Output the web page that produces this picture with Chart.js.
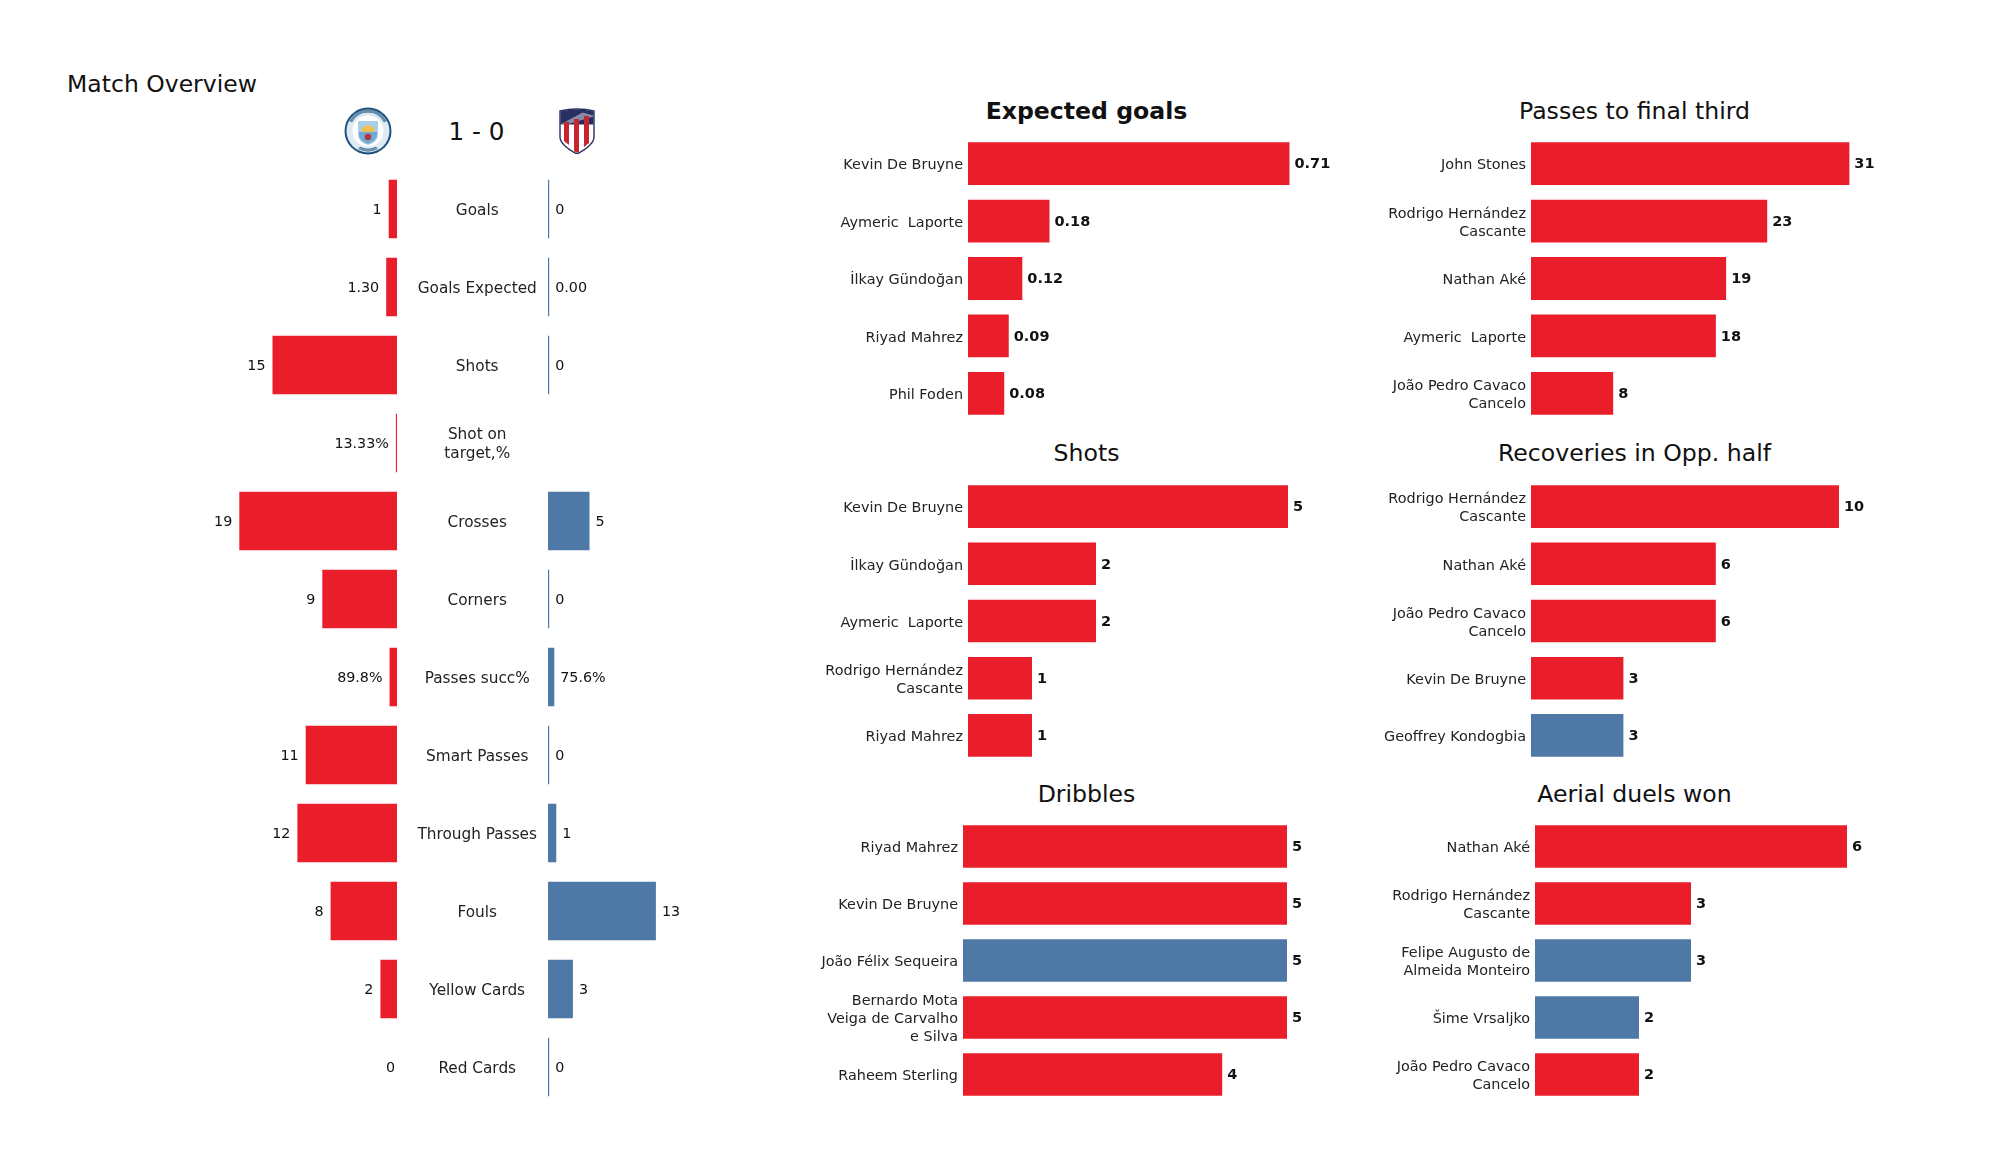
<!DOCTYPE html>
<html>
<head>
<meta charset="utf-8">
<title>Match Overview</title>
<script src="https://cdn.jsdelivr.net/npm/chart.js@4"></script>
<style>
    html, body { margin: 0; padding: 0; background: white; }
    body { position: relative; width: 2000px; height: 1175px; overflow: hidden; font-family: "DejaVu Sans", sans-serif; color: #111; }
    canvas, svg { position: absolute; }
    .label { position: absolute; white-space: pre; transform: translate(-50%, -50%); line-height: 1; }
</style>
</head>
<body>
<div class="label" style="left:162px;top:85px;font-size:23.5px">Match Overview</div>
<div class="label" style="left:476.5px;top:132px;font-size:24.7px">1 - 0</div>
<div class="label" style="left:1086.5px;top:112px;font-size:23.6px;font-weight:bold">Expected goals</div>
<div class="label" style="left:1086.5px;top:454px;font-size:23.6px">Shots</div>
<div class="label" style="left:1086.5px;top:795px;font-size:23.6px">Dribbles</div>
<div class="label" style="left:1634.5px;top:112px;font-size:23.6px">Passes to final third</div>
<div class="label" style="left:1634.5px;top:454px;font-size:23.6px">Recoveries in Opp. half</div>
<div class="label" style="left:1634.5px;top:795px;font-size:23.6px">Aerial duels won</div>

<!-- Crests -->
<svg style="left:344px;top:107px" width="48" height="48" viewBox="0 0 48 48">
    <circle cx="24" cy="24" r="23.5" fill="#1c4f7c"/>
    <circle cx="24" cy="24" r="21.5" fill="#dfeaf3"/>
    <circle cx="24" cy="24" r="15.5" fill="#fff"/>
    <path d="M14 14h20v13c0 6-4 9-10 11c-6-2-10-5-10-11z" fill="#a9cfe8"/>
    <path d="M18 22q2-5 4-2q2-5 4 0q2-3 4 2v3h-12z" fill="#f0c04a"/>
    <path d="M15 25h18v2c0 5-4 8-9 10c-5-2-9-5-9-10z" fill="#6faad2"/>
    <circle cx="24" cy="30" r="3.2" fill="#b5323f"/>
    <path d="M24 2.5a21.5 21.5 0 0 1 19 11.5l-3 1.6a18 18 0 0 0-32 0l-3-1.6a21.5 21.5 0 0 1 19-11.5z" fill="#3f6f98" opacity="0.75"/>
    <path d="M14 42a21 21 0 0 0 20 0l-2-2.6a18 18 0 0 1-16 0z" fill="#6d8fae"/>
</svg>
<svg style="left:559px;top:108px" width="36" height="46" viewBox="0 0 36 46">
    <path d="M1 3q17-4 34 0v26q0 8-17 17q-17-9-17-17z" fill="#fff"/>
    <path d="M1.500 3.500q16.500-4 33 0v13h-33z" fill="#27305f"/>
    <path d="M1.500 16.500l22-12l11 3v1l-27 8z" fill="#d9d9e6" opacity="0.55"/>
    <path d="M5 14h5v23l-5-4z" fill="#c8232f"/>
    <path d="M15 11h5v33l-2 1l-3-2z" fill="#c8232f"/>
    <path d="M25 8h5v27l-5 4z" fill="#c8232f"/>
    <path d="M1 3q17-4 34 0v26q0 8-17 17q-17-9-17-17z" fill="none" stroke="#27305f" stroke-width="1.400"/>
</svg>

<canvas id="homeChart" width="397" height="936" style="left:0;top:170px"></canvas>
<canvas id="awayChart" width="400" height="936" style="left:405px;top:170px"></canvas>
<canvas id="xgChart" width="572" height="287" style="left:788px;top:135px"></canvas>
<canvas id="shotsChart" width="572" height="286" style="left:788px;top:478px"></canvas>
<canvas id="dribblesChart" width="572" height="285" style="left:783px;top:818px"></canvas>
<canvas id="passesChart" width="600" height="287" style="left:1351px;top:135px"></canvas>
<canvas id="recoveriesChart" width="600" height="286" style="left:1351px;top:478px"></canvas>
<canvas id="aerialChart" width="600" height="285" style="left:1355px;top:818px"></canvas>

<script>
// Match overview table

const statNames = ['Goals', 'Goals Expected', 'Shots', ['Shot on', 'target,%'], 'Crosses', 'Corners',
    'Passes succ%', 'Smart Passes', 'Through Passes', 'Fouls', 'Yellow Cards', 'Red Cards'];
const homeValues = [1, 1.3, 15, 0.1333, 19, 9, 0.898, 11, 12, 8, 2, 0];
const awayValues = [0, 0, 0, null, 5, 0, 0.756, 0, 1, 13, 3, 0];
const homeLabels = ['1', '1.30', '15', '13.33%', '19', '9', '89.8%', '11', '12', '8', '2', '0'];
const awayLabels = ['0', '0.00', '0', '', '5', '0', '75.6%', '0', '1', '13', '3', '0'];

// Player panels

const xgNames = ['Kevin De Bruyne', 'Aymeric  Laporte', 'İlkay Gündoğan', 'Riyad Mahrez', 'Phil Foden'];
const xgValues = [0.71, 0.18, 0.12, 0.09, 0.08];
const xgLabels = ['0.71', '0.18', '0.12', '0.09', '0.08'];
const xgTeams = ['home', 'home', 'home', 'home', 'home'];

const shotNames = ['Kevin De Bruyne', 'İlkay Gündoğan', 'Aymeric  Laporte', ['Rodrigo Hernández', 'Cascante'], 'Riyad Mahrez'];
const shotValues = [5, 2, 2, 1, 1];
const shotTeams = ['home', 'home', 'home', 'home', 'home'];

const dribbleNames = ['Riyad Mahrez', 'Kevin De Bruyne', 'João Félix Sequeira', ['Bernardo Mota', 'Veiga de Carvalho', 'e Silva'], 'Raheem Sterling'];
const dribbleValues = [5, 5, 5, 5, 4];
const dribbleTeams = ['home', 'home', 'away', 'home', 'home'];

const passNames = ['John Stones', ['Rodrigo Hernández', 'Cascante'], 'Nathan Aké', 'Aymeric  Laporte', ['João Pedro Cavaco', 'Cancelo']];
const passValues = [31, 23, 19, 18, 8];
const passTeams = ['home', 'home', 'home', 'home', 'home'];

const recoveryNames = [['Rodrigo Hernández', 'Cascante'], 'Nathan Aké', ['João Pedro Cavaco', 'Cancelo'], 'Kevin De Bruyne', 'Geoffrey Kondogbia'];
const recoveryValues = [10, 6, 6, 3, 3];
const recoveryTeams = ['home', 'home', 'home', 'home', 'away'];

const aerialNames = ['Nathan Aké', ['Rodrigo Hernández', 'Cascante'], ['Felipe Augusto de', 'Almeida Monteiro'], 'Šime Vrsaljko', ['João Pedro Cavaco', 'Cancelo']];
const aerialValues = [6, 3, 3, 2, 2];
const aerialTeams = ['home', 'home', 'away', 'away', 'home'];

const colors = { home: '#ea1e2b', away: '#4e79a7' };
const fontFamily = '"DejaVu Sans"';

// Plugin that writes the value next to the end of each bar

const valueLabels = {
    id: 'valueLabels',
    afterDatasetsDraw(chart, args, opts) {
        const ctx = chart.ctx;
        const meta = chart.getDatasetMeta(0);
        ctx.save();
        ctx.font = opts.weight + ' ' + opts.size + 'px ' + fontFamily;
        ctx.fillStyle = '#111';
        ctx.textBaseline = 'middle';
        ctx.textAlign = opts.side == 'left' ? 'right' : 'left';
        meta.data.forEach((bar, i) => {
            let gap = opts.gap;
            if (opts.side == 'left') {
                // empty bars have no edge, so the label sits against the axis
                gap = chart.data.datasets[0].data[i] == 0 ? 2 : gap;
                ctx.fillText(opts.texts[i], bar.x - gap, bar.y + 1);
            } else {
                ctx.fillText(opts.texts[i], bar.x + gap, bar.y + 1);
            }
        });
        ctx.restore();
    }
};

// Function to draw one horizontal bar chart

function drawBars(id, settings) {
    const canvas = document.getElementById(id);
    const plotWidth = canvas.width - settings.axisWidth;
    const xMax = plotWidth / settings.pixelsPerUnit;

    return new Chart(canvas, {
        type: 'bar',
        plugins: [valueLabels],
        data: {
            labels: settings.names,
            datasets: [{
                data: settings.values,
                backgroundColor: settings.barColors,
                barPercentage: settings.barPercentage,
                categoryPercentage: 1,
                minBarLength: settings.minBar
            }]
        },
        options: {
            indexAxis: 'y',
            responsive: false,
            animation: false,
            layout: { padding: 0 },
            plugins: {
                legend: { display: false },
                tooltip: { enabled: false },
                valueLabels: {
                    texts: settings.texts,
                    side: settings.side,
                    gap: settings.gap,
                    size: settings.valueSize,
                    weight: settings.weight
                }
            },
            scales: {
                x: {
                    display: false,
                    min: 0,
                    max: xMax,
                    reverse: settings.side == 'left'
                },
                y: {
                    display: settings.axisWidth > 0,
                    afterFit: (scale) => {
                        scale.width = settings.axisWidth;
                        // no room wanted for half labels above and below
                        scale.paddingTop = 0;
                        scale.paddingBottom = 0;
                    },
                    grid: { display: false, drawTicks: false },
                    border: { display: false },
                    ticks: {
                        autoSkip: false,
                        crossAlign: settings.tickAlign,
                        padding: settings.tickPadding,
                        labelOffset: 2,
                        color: '#222',
                        font: { family: fontFamily, size: settings.tickSize, lineHeight: 1.24 }
                    }
                }
            }
        }
    });
}

// Left hand table, two mirrored charts

drawBars('homeChart', {
    names: statNames, values: homeValues, texts: homeLabels,
    barColors: colors.home, side: 'left', axisWidth: 0, pixelsPerUnit: 8.3,
    barPercentage: 0.75, gap: 7, weight: 'normal', valueSize: 14.3, minBar: 0
});

drawBars('awayChart', {
    names: statNames, values: awayValues, texts: awayLabels,
    barColors: colors.away, side: 'right', axisWidth: 143, pixelsPerUnit: 8.3,
    barPercentage: 0.75, gap: 6, weight: 'normal', valueSize: 14.3, minBar: 1.2,
    tickAlign: 'center', tickPadding: 11, tickSize: 15.3
});

// Player panels

function drawPanel(id, names, values, teams, pixelsPerUnit, texts) {
    drawBars(id, {
        names: names,
        values: values,
        texts: texts || values.map(String),
        barColors: teams.map(team => colors[team]),
        side: 'right',
        axisWidth: 180,
        pixelsPerUnit: pixelsPerUnit,
        barPercentage: 0.745,
        gap: 5,
        weight: 'bold',
        valueSize: 14.5,
        minBar: 0,
        tickAlign: 'near',
        tickPadding: 5,
        tickSize: 14.4
    });
}

drawPanel('xgChart', xgNames, xgValues, xgTeams, 452.8, xgLabels);
drawPanel('shotsChart', shotNames, shotValues, shotTeams, 64);
drawPanel('dribblesChart', dribbleNames, dribbleValues, dribbleTeams, 64.8);
drawPanel('passesChart', passNames, passValues, passTeams, 10.27);
drawPanel('recoveriesChart', recoveryNames, recoveryValues, recoveryTeams, 30.8);
drawPanel('aerialChart', aerialNames, aerialValues, aerialTeams, 52);
</script>
</body>
</html>
